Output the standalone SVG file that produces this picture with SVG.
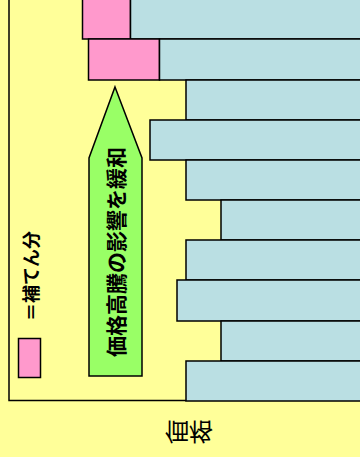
<svg xmlns="http://www.w3.org/2000/svg" width="360" height="457" viewBox="0 0 360 457">
<style>
.bar{fill:#BADFE3;stroke:#000;stroke-width:1.5}
.pink{fill:#FF99CC;stroke:#000;stroke-width:1.5}
.axis{fill:none;stroke:#000;stroke-width:1.5}
.jp{font-family:"Noto Sans CJK JP","Noto Sans",sans-serif;fill:#000}
.b{font-weight:bold}
</style>
<rect x="0" y="0" width="360" height="457" fill="#FFFF99"/>
<g id="axes">
<polyline class="axis" points="9,-2 9,400.5 186,400.5"/>
</g>
<g id="bar1"><rect class="pink" x="82.5" y="-2" width="48" height="41"/><rect class="bar" x="130.5" y="-2" width="235" height="41"/></g>
<g id="bar2"><rect class="pink" x="88.5" y="39" width="71" height="41"/><rect class="bar" x="159.5" y="39" width="205" height="41"/></g>
<g id="bar3"><rect class="bar" x="186" y="80" width="180" height="40"/></g>
<g id="bar4"><rect class="bar" x="150" y="120" width="216" height="40"/></g>
<g id="bar5"><rect class="bar" x="186" y="160" width="180" height="40"/></g>
<g id="bar6"><rect class="bar" x="221" y="200" width="145" height="40"/></g>
<g id="bar7"><rect class="bar" x="186" y="240" width="180" height="40"/></g>
<g id="bar8"><rect class="bar" x="177" y="280" width="189" height="41"/></g>
<g id="bar9"><rect class="bar" x="221" y="321" width="145" height="40"/></g>
<g id="bar10"><rect class="bar" x="186" y="361" width="180" height="40"/></g>
<g id="arrow">
<polygon points="115,87 142,158 142,376 89,376 89,158" fill="#99FF66" stroke="#000" stroke-width="1.5"/>
<text class="jp b" transform="translate(116,252) rotate(-90)" x="0" y="7.5" font-size="21" text-anchor="middle">価格高騰の影響を緩和</text>
</g>
<g id="legend">
<rect class="pink" x="18.5" y="338.5" width="22" height="39"/>
<text class="jp b" transform="translate(31,276) rotate(-90)" x="0" y="6.5" font-size="18" text-anchor="middle">＝補てん分</text>
</g>
<g id="xlabel">
<text class="jp" transform="translate(189,432) scale(1,-1)" x="0" y="9" font-size="24" text-anchor="middle">価格</text>
</g>
</svg>
